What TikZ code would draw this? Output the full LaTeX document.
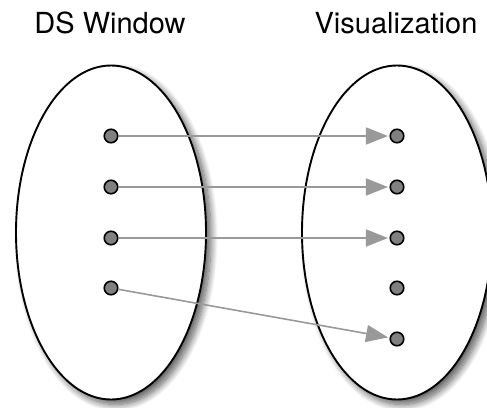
\documentclass[tikz,border=0pt]{standalone}
\usepackage{fontspec}
\setmainfont{TeX Gyre Heros}
\usetikzlibrary{shapes.geometric,arrows.meta,shadows.blur}
\definecolor{dotgray}{HTML}{808080}
\definecolor{arrgray}{HTML}{999999}
\tikzset{
  setbox/.style={ellipse, draw=black, line width=1.9pt, fill=white, inner sep=0pt,
    minimum width=190pt, minimum height=334pt,
    blur shadow={shadow xshift=5pt, shadow yshift=-5pt, shadow blur radius=7pt,
      shadow blur steps=12, shadow opacity=65}},
  elem/.style={circle, draw=black, line width=1.6pt, fill=dotgray, inner sep=0pt, minimum size=13.5pt},
  mapsto/.style={draw=arrgray, line width=1.6pt, shorten >=1.5pt,
    -{Triangle[length=22pt,width=17pt]}},
  title/.style={font=\fontsize{29}{33}\selectfont, anchor=base}
}
\begin{document}
\begin{tikzpicture}[x=1pt,y=-1pt]
  \useasboundingbox (0,0) rectangle (487,407);
  % the two sets
  \node[setbox] (dom) at (111,232.5) {};
  \node[setbox] (cod) at (397,232.5) {};
  % headings
  \node[title] (domlabel) at (110,33) {DS Window};
  \node[title] (codlabel) at (396,33) {Visualization};
  % elements
  \node[elem] (l1) at (111,136) {};
  \node[elem] (l2) at (111,187) {};
  \node[elem] (l3) at (111,238) {};
  \node[elem] (l4) at (111,288) {};
  \node[elem] (r1) at (397,136) {};
  \node[elem] (r2) at (397,187) {};
  \node[elem] (r3) at (397,238) {};
  \node[elem] (r4) at (397,288) {};
  \node[elem] (r5) at (397,339) {};
  % mapping
  \draw[mapsto] (l1) -- (r1);
  \draw[mapsto] (l2) -- (r2);
  \draw[mapsto] (l3) -- (r3);
  \draw[mapsto] (l4) -- (r5);
\end{tikzpicture}
\end{document}
